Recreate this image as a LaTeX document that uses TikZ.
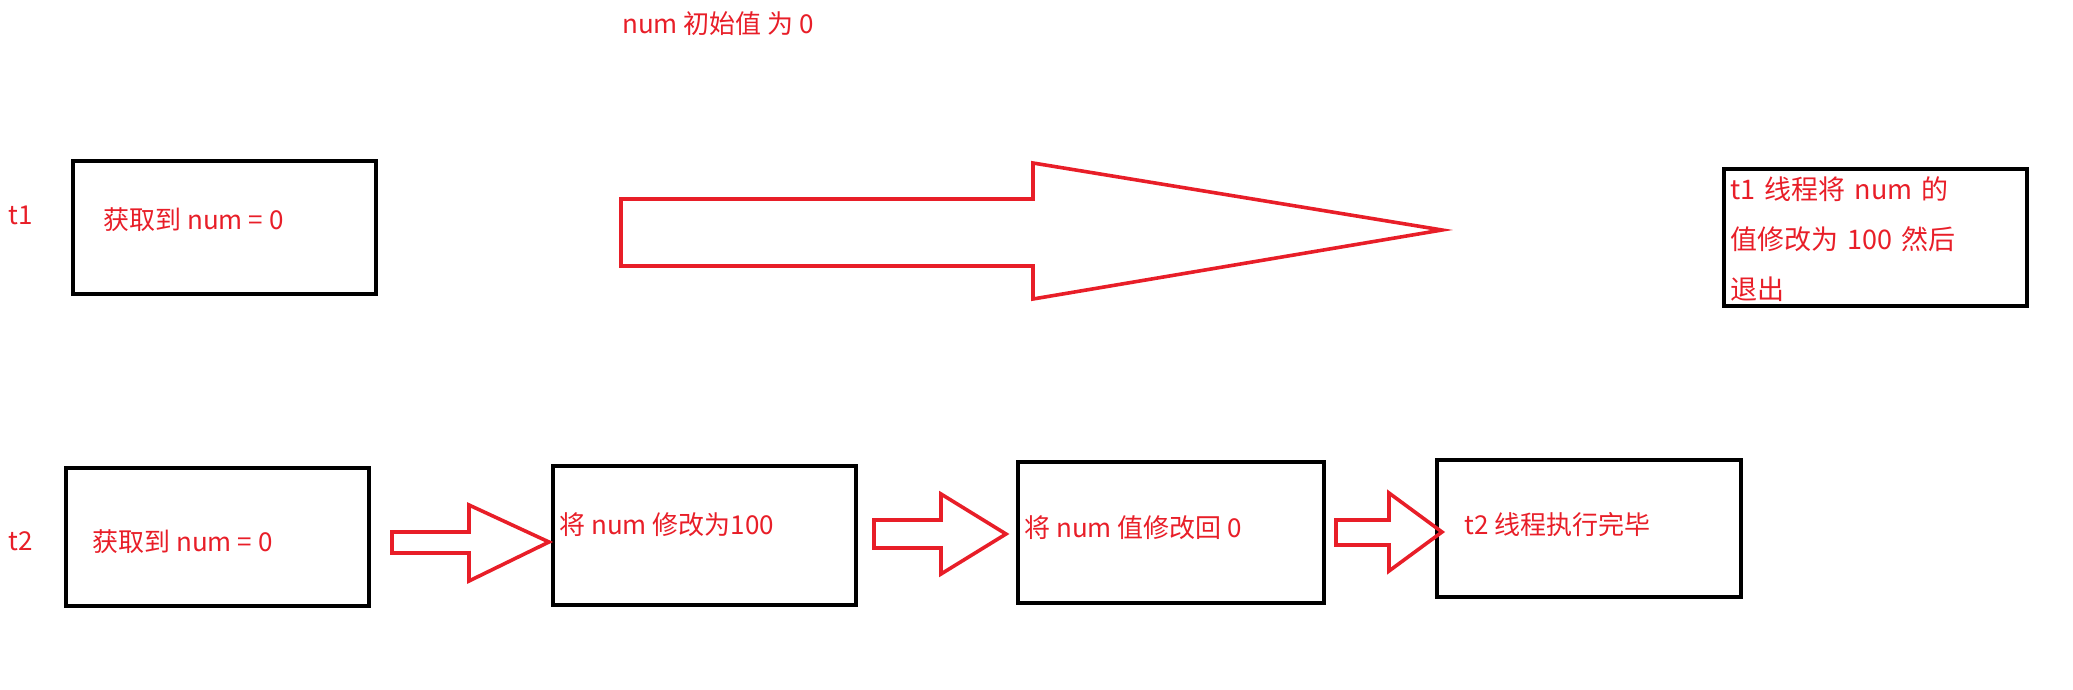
\documentclass[tikz,border=0pt]{standalone}
\usepackage{fontspec}
\setmainfont{Noto Sans CJK SC}
\definecolor{rd}{RGB}{232,30,40}
\begin{document}
\begin{tikzpicture}[x=0.5pt,y=-0.5pt,
  box/.style={draw=black,line width=2pt,inner sep=0pt},
  lbl/.style={text=rd,font=\fontsize{13}{16}\selectfont,inner sep=0pt},
  arr/.style={draw=rd,line width=1.8pt,line join=miter}]
\useasboundingbox (0,0) rectangle (2073,690);
\node[lbl] (title) at (718,24) {num 初始值 为 0};
\node[lbl,anchor=west] (t1) at (8,215) {t1};
\node[lbl,anchor=west] (t2) at (8,541) {t2};
% t1 row
\node[box,minimum width=151.5pt,minimum height=66.5pt] (a1) at (224.5,227.5) {};
\node[lbl,anchor=west] (a1t) at (103,220) {获取到 num = 0};
\draw[arr] (621,199) -- (1033,199) -- (1033,163) -- (1442,230) -- (1033,299) -- (1033,266) -- (621,266) -- cycle;
\node[box,minimum width=151.5pt,minimum height=68.5pt] (b1) at (1875.5,237.5) {};
\node[lbl,anchor=north west,text width=140pt,align=left,font=\fontsize{13.5}{25}\selectfont] (b1t) at (1730,176) {t1 线程将 num 的\\值修改为 100 然后\\退出};
% t2 row
\node[box,minimum width=151.5pt,minimum height=69pt] (a) at (217.5,537) {};
\node[lbl,anchor=west] (at) at (92,542) {获取到 num = 0};
\node[box,minimum width=151.5pt,minimum height=69.5pt] (b) at (704.5,535.5) {};
\node[lbl,anchor=west] (bt) at (559,525) {将 num 修改为100};
\node[box,minimum width=153pt,minimum height=70.5pt] (c) at (1171,532.5) {};
\node[lbl,anchor=west] (ct) at (1024,528) {将 num 值修改回 0};
\node[box,minimum width=152pt,minimum height=68.5pt] (d) at (1589,528.5) {};
\node[lbl,anchor=west] (dt) at (1464,525) {t2 线程执行完毕};
\draw[arr] (392,532) -- (469,532) -- (469,505) -- (549,542) -- (469,581) -- (469,553) -- (392,553) -- cycle;
\draw[arr] (874,520) -- (941,520) -- (941,494) -- (1006,534) -- (941,574) -- (941,548) -- (874,548) -- cycle;
\draw[arr] (1336,520) -- (1389,520) -- (1389,493) -- (1442,532) -- (1389,571) -- (1389,545) -- (1336,545) -- cycle;
\end{tikzpicture}
\end{document}
